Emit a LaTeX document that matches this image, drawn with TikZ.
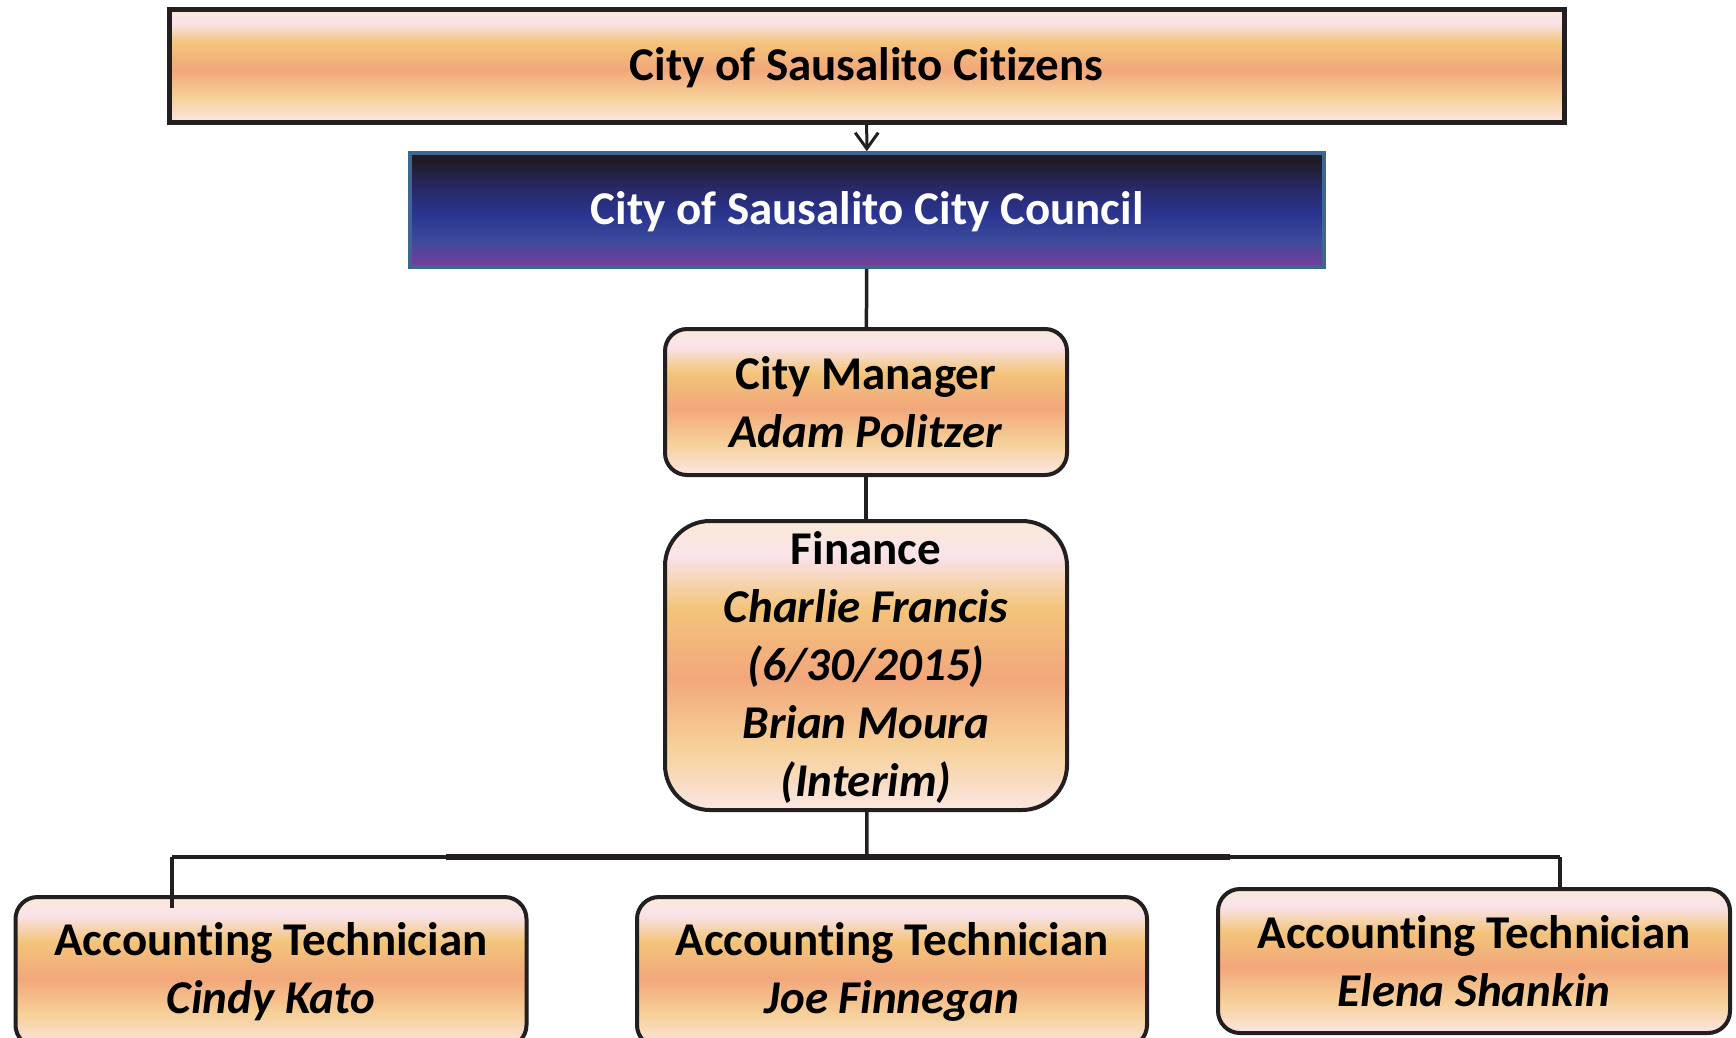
\documentclass[tikz,border=0pt]{standalone}
\usepackage{fontspec}
\setmainfont{Carlito}[Ligatures={NoCommon,NoContextual,NoRequired}]
\usetikzlibrary{arrows.meta}

\definecolor{inkline}{HTML}{231F20}
\definecolor{councilrim}{HTML}{3F6593}
% peach fill
\definecolor{pchtop}{HTML}{FAE9D6}
\definecolor{pchpink}{HTML}{F9E3EA}
\definecolor{pchgold}{HTML}{F3C47A}
\definecolor{pchsalmon}{HTML}{F2A77B}
\definecolor{pchgoldlo}{HTML}{F6D098}
\definecolor{pchbot}{HTML}{FBE6E2}
% council fill
\definecolor{cnltop}{HTML}{201C27}
\definecolor{cnlnavy}{HTML}{27265C}
\definecolor{cnlblue}{HTML}{2B3590}
\definecolor{cnlmid}{HTML}{3B4A9C}
\definecolor{cnlbot}{HTML}{7A3D98}

\pgfdeclareverticalshading{peach}{100bp}{color(0bp)=(pchbot); color(25bp)=(pchbot);
  color(36bp)=(pchgoldlo); color(48bp)=(pchsalmon); color(60bp)=(pchgold);
  color(69bp)=(pchpink); color(75bp)=(pchtop); color(100bp)=(pchtop)}
\pgfdeclareverticalshading{council}{100bp}{color(0bp)=(cnlbot); color(25bp)=(cnlbot);
  color(37bp)=(cnlmid); color(48bp)=(cnlblue); color(62bp)=(cnlnavy);
  color(71bp)=(cnltop); color(75bp)=(cnltop); color(100bp)=(cnltop)}

\begin{document}
\begin{tikzpicture}[x=1pt,y=-1pt,
    every node/.style={font=\fontsize{47}{58}\selectfont\bfseries,align=center,inner sep=0pt},
    citizenbox/.style={draw=inkline,line width=5pt,shading=peach,text depth=3pt},
    councilbox/.style={draw=councilrim,line width=3.5pt,shading=council,text=white,text depth=3pt},
    staffbox/.style={draw=inkline,line width=4pt,shading=peach,rounded corners=22pt},
    link/.style={draw=inkline,line width=3.5pt}]
  \clip (0,0) rectangle (1736,1037);

  \node[citizenbox,minimum width=1395pt,minimum height=113pt](citizens) at (866.5,65.5){City of Sausalito Citizens};
  \node[councilbox,minimum width=914pt,minimum height=114pt](council) at (867,210){City of Sausalito City Council};
  \node[staffbox,minimum width=402pt,minimum height=146pt](manager) at (866,402){City Manager\\\textit{Adam Politzer}};
  \node[staffbox,rounded corners=45pt,text depth=4pt,minimum width=402pt,minimum height=289pt](finance) at (866,665.5){Finance\\\textit{Charlie Francis}\\\textit{(6/30/2015)}\\\textit{Brian Moura}\\\textit{(Interim)}};

  % technicians
  \node[staffbox,minimum width=511pt,minimum height=150pt](kato) at (271,972){Accounting Technician\\\textit{Cindy Kato}};
  \node[staffbox,minimum width=510pt,minimum height=150pt](finnegan) at (892,972){Accounting Technician\\\textit{Joe Finnegan}};
  \node[staffbox,minimum width=512pt,minimum height=144pt](shankin) at (1474,961){Accounting Technician\\\textit{Elena Shankin}};

  \draw[draw=inkline,line width=3pt,-{Straight Barb[length=16pt,width=23pt]}] (citizens) -- (council);
  \draw[link] (council) -- (manager);
  \draw[link] (manager) -- (finance);

  \coordinate (bus) at (867,857);
  \coordinate (busL) at (172,857);
  \coordinate (busR) at (1560,857);
  \coordinate (busA) at (446,857);
  \coordinate (busB) at (1230,857);
  \coordinate (dropL) at (172,908);
  \draw[link] (finance) -- (bus);
  \draw[link] (busL) -- (busR);
  \draw[link,line width=5.5pt] (busA) -- (busB);
  \draw[link] (busL) -- (dropL);
  \draw[link] (busR) -- (busR |- shankin.north);
\end{tikzpicture}
\end{document}
